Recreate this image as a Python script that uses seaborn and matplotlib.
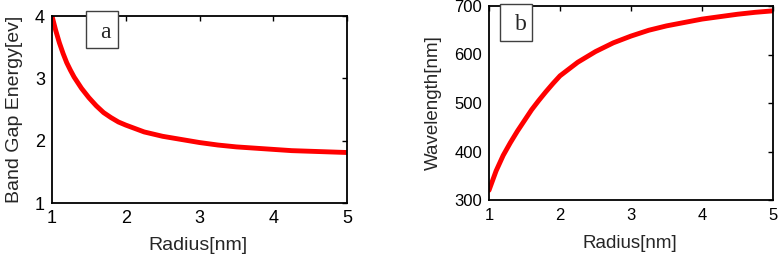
import matplotlib
matplotlib.use("Agg")
import matplotlib.pyplot as plt
from matplotlib.patches import Rectangle
import seaborn as sns
import pandas as pd

# ---- data ----
radius_a = [1.00, 1.05, 1.10, 1.15, 1.20, 1.25, 1.30, 1.40, 1.50, 1.60, 1.70, 1.80,
            1.90, 2.00, 2.25, 2.50, 2.75, 3.00, 3.25, 3.50, 3.75, 4.00, 4.25, 4.50,
            4.75, 5.00]
band_gap = [4.00, 3.77, 3.57, 3.40, 3.25, 3.13, 3.02, 2.84, 2.69, 2.56, 2.45, 2.37,
            2.30, 2.25, 2.14, 2.07, 2.02, 1.97, 1.93, 1.90, 1.88, 1.86, 1.84, 1.83,
            1.82, 1.81]

radius_b = [1.00, 1.10, 1.20, 1.30, 1.40, 1.50, 1.60, 1.70, 1.80, 1.90, 2.00, 2.25,
            2.50, 2.75, 3.00, 3.25, 3.50, 3.75, 4.00, 4.25, 4.50, 4.75, 5.00]
wavelength = [320, 360, 392, 418, 442, 464, 486, 505, 523, 540, 556, 584,
              606, 624, 638, 650, 659, 666, 673, 678, 683, 687, 690]

xticks = [1, 2, 3, 4, 5]
yticks_a = [1, 2, 3, 4]
yticks_b = [300, 400, 500, 600, 700]
panel_labels = ["a", "b"]
xlabel = "Radius[nm]"
ylabel_a = "Band Gap Energy[ev]"
ylabel_b = "Wavelength[nm]"

df_a = pd.DataFrame({"r": radius_a, "E": band_gap})
df_b = pd.DataFrame({"r": radius_b, "L": wavelength})

sns.set_style("white")
plt.rcParams["font.family"] = ["Liberation Sans", "DejaVu Sans"]

W, H = 782, 270
fig = plt.figure(figsize=(W / 100, H / 100), dpi=100)

def px_axes(x0, x1, ytop, ybot):
    return fig.add_axes([x0 / W, 1 - ybot / H, (x1 - x0) / W, (ybot - ytop) / H])

ax1 = px_axes(52, 347, 16, 203)
ax2 = px_axes(489, 773, 6, 200)

sns.lineplot(data=df_a, x="r", y="E", ax=ax1, color="#ff0000", linewidth=3.5, sort=False)
sns.lineplot(data=df_b, x="r", y="L", ax=ax2, color="#ff0000", linewidth=3.5, sort=False)

for ax, yt, ylim, tsize, lsize, ylab, ylx, xpad in [
        (ax1, yticks_a, (1, 4), 13, 14, ylabel_a, -0.098, 5),
        (ax2, yticks_b, (300, 700), 12, 13.5, ylabel_b, -0.165, 6)]:
    ax.set_xlim(1, 5)
    ax.set_ylim(*ylim)
    ax.set_xticks(xticks)
    ax.set_yticks(yt)
    ax.set_xticklabels([str(v) for v in xticks])
    ax.set_yticklabels([str(v) for v in yt])
    ax.tick_params(direction="in", length=3.5, width=1, colors="black",
                   top=True, right=True, labelsize=tsize)
    ax.tick_params(axis="x", pad=xpad)
    ax.tick_params(axis="y", pad=5)
    for s in ax.spines.values():
        s.set_visible(True)
        s.set_color("black")
        s.set_linewidth(1.3)
    ax.set_xlabel(xlabel, fontsize=lsize)
    ax.set_ylabel(ylab, fontsize=lsize)
    ax.xaxis.set_label_coords(0.495, -0.18)
    ax.yaxis.set_label_coords(ylx, 0.5)
    ax.set_facecolor("white")

# panel label boxes (pixel positions)
for (bx0, by0, bx1, by1, tx, ty), lab in zip(
        [(86, 11, 118, 48, 105, 33), (500, 4, 532, 41, 521, 24)], panel_labels):
    rect = Rectangle((bx0 / W, 1 - by1 / H), (bx1 - bx0) / W, (by1 - by0) / H,
                     transform=fig.transFigure, facecolor="white",
                     edgecolor="#404040", linewidth=1.0, zorder=10)
    fig.add_artist(rect)
    fig.text(tx / W, 1 - ty / H, lab, ha="center", va="center",
             fontsize=17, family=["Liberation Serif", "DejaVu Serif"], zorder=11)

fig.savefig("out.png", dpi=100, facecolor="white")
